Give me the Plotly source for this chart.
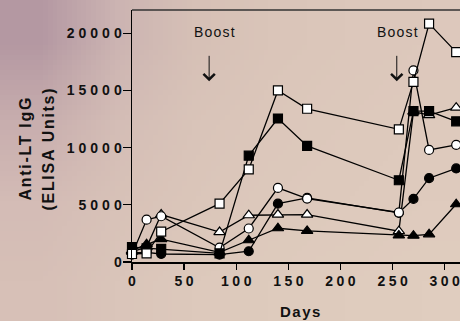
import base64
import struct
import zlib

import plotly.graph_objects as go

# ---------------- data ----------------
days = [0, 14, 28, 84, 112, 140, 168, 256, 270, 285, 311]

open_square = [700, 750, 2650, 5100, 8100, 15000, 13400, 11600, 15750, 20850, 18350]
filled_square = [1300, 1200, 1150, 750, 9300, 12550, 10150, 7150, 13200, 13200, 12300]
open_circle = [650, 3700, 4000, 1250, 2930, 6480, 5550, 4330, 16750, 9800, 10250]
filled_circle = [800, 850, 700, 650, 940, 5100, 5600, 4300, 5520, 7330, 8180]
open_triangle = [900, 1300, 4150, 2620, 4090, 4150, 4150, 2700, 13150, 12850, 13500]
filled_triangle = [1000, 1550, 2000, 850, 1900, 2950, 2720, 2320, 2300, 2420, 5050]

boost_days = [74, 254]
boost_label = "Boost"

y_tick_values = [0, 5000, 10000, 15000, 20000]
y_tick_labels = ["0", "5000", "10000", "15000", "20000"]
x_tick_values = [0, 50, 100, 150, 200, 250, 300]
x_tick_labels = ["0", "50", "100", "150", "200", "250", "300"]

x_title = "Days"
y_title_lines = ["Anti-LT IgG", "(ELISA Units)"]


# ------------- background gradient (tiny png, stretched) -------------
def png_uri(rows):
    h = len(rows)
    w = len(rows[0])
    raw = b"".join(b"\x00" + bytes([c for px in row for c in px]) for row in rows)

    def chunk(tag, data):
        c = struct.pack(">I", len(data)) + tag + data
        return c + struct.pack(">I", zlib.crc32(tag + data) & 0xFFFFFFFF)

    png = b"\x89PNG\r\n\x1a\n"
    png += chunk(b"IHDR", struct.pack(">IIBBBBB", w, h, 8, 2, 0, 0, 0))
    png += chunk(b"IDAT", zlib.compress(raw))
    png += chunk(b"IEND", b"")
    return "data:image/png;base64," + base64.b64encode(png).decode()


bg_rows = [
    [(180, 152, 162), (204, 180, 178), (214, 192, 182), (218, 197, 185), (220, 199, 187), (221, 200, 188)],
    [(200, 174, 174), (212, 189, 182), (217, 196, 185), (220, 199, 187), (221, 201, 188), (222, 202, 189)],
    [(212, 188, 182), (216, 194, 184), (219, 198, 186), (221, 201, 188), (222, 202, 189), (223, 203, 190)],
    [(215, 192, 183), (218, 197, 186), (221, 201, 188), (222, 203, 189), (223, 204, 190), (224, 205, 191)],
]

W, H = 460, 321
ML, MR, MT, MB = 132, 0, 10, 59
PW, PH = W - ML - MR, H - MT - MB

FONT = "Liberation Sans, Arial, sans-serif"


def spaced(t, ls):
    # letter-spacing on all but the last character (no trailing gap)
    if len(t) < 2:
        return t
    return f'<span style="letter-spacing:{ls}px">{t[:-1]}</span>{t[-1]}'


fig = go.Figure()

series = [
    (open_triangle, "triangle-up", "white", 10),
    (filled_triangle, "triangle-up", "black", 10),
    (filled_circle, "circle", "black", 9),
    (open_circle, "circle", "white", 9),
    (filled_square, "square", "black", 9),
    (open_square, "square", "white", 9),
]
for vals, sym, fill, size in series:
    fig.add_trace(
        go.Scatter(
            x=days,
            y=vals,
            mode="lines+markers",
            line=dict(color="black", width=1.3),
            marker=dict(symbol=sym, size=size, color=fill, line=dict(color="black", width=1.2)),
            cliponaxis=False,
            showlegend=False,
            hoverinfo="skip",
        )
    )

annotations = []
# Boost labels and arrows
label_shift = [5, 1]
for d, sh in zip(boost_days, label_shift):
    annotations.append(
        dict(
            x=d, y=20090, xref="x", yref="y", xshift=sh,
            text=spaced(boost_label, 1.2), showarrow=False,
            font=dict(family=FONT, size=14, color="#111"),
            xanchor="center", yanchor="middle",
        )
    )
    annotations.append(
        dict(
            x=d, y=15800, xref="x", yref="y",
            ax=0, ay=-27, text="", showarrow=True,
            arrowhead=4, arrowsize=2.2, arrowwidth=1, arrowcolor="#111",
        )
    )

# axis titles
annotations.append(
    dict(
        x=(300 - ML) / PW, y=(H - MB - 311.5) / PH, xref="paper", yref="paper",
        text="<b>" + spaced(x_title, 1.5) + "</b>", showarrow=False,
        font=dict(family=FONT, size=15, color="#111"),
        xanchor="center", yanchor="middle",
    )
)
for xpx, line in zip([25, 48], y_title_lines):
    annotations.append(
        dict(
            x=(xpx - ML) / PW, y=(H - MB - 149.5) / PH, xref="paper", yref="paper",
            text="<b>" + spaced(line, 1.7) + "</b>", showarrow=False, textangle=-90,
            font=dict(family=FONT, size=16, color="#111"),
            xanchor="center", yanchor="middle",
        )
    )

fig.update_layout(
    width=W,
    height=H,
    margin=dict(l=ML, r=MR, t=MT, b=MB, pad=0, autoexpand=False),
    paper_bgcolor="rgb(219,198,186)",
    plot_bgcolor="white",
    annotations=annotations,
    hovermode=False,
    images=[
        dict(
            source=png_uri(bg_rows), xref="paper", yref="paper",
            x=-ML / PW, y=1 + MT / PH, sizex=W / PW, sizey=H / PH,
            xanchor="left", yanchor="top", sizing="stretch", layer="below",
        )
    ],
    xaxis=dict(
        range=[0, PW / 1.0424],
        tickvals=x_tick_values,
        ticktext=["<b>" + spaced(t, 3.5) + "</b>" for t in x_tick_labels],
        ticks="outside", ticklen=6, tickwidth=1.3, tickcolor="black",
        showline=True, linecolor="black", linewidth=1.5, mirror=False,
        showgrid=False, zeroline=False, automargin=False,
        ticklabeloverflow="allow",
        tickfont=dict(family=FONT, size=14, color="#111"),
    ),
    yaxis=dict(
        range=[0, PH / 11.435 * 1000],
        tickvals=y_tick_values,
        ticktext=["<b>" + spaced(t, 4) + "</b>" for t in y_tick_labels],
        ticks="outside", ticklen=8, tickwidth=1.3, tickcolor="black",
        showline=True, linecolor="black", linewidth=1.5, mirror=False,
        showgrid=False, zeroline=False, automargin=False,
        ticklabeloverflow="allow", ticklabelstandoff=-2,
        tickfont=dict(family=FONT, size=14, color="#111"),
    ),
    shapes=[
        dict(type="line", xref="paper", yref="paper", x0=0, x1=1, y0=1, y1=1,
             line=dict(color="#333", width=1.5))
    ],
)

fig.write_html(
    "out.html",
    config={"displayModeBar": False, "staticPlot": True},
    post_script="document.body.style.margin='0';document.body.style.overflow='hidden';",
)
